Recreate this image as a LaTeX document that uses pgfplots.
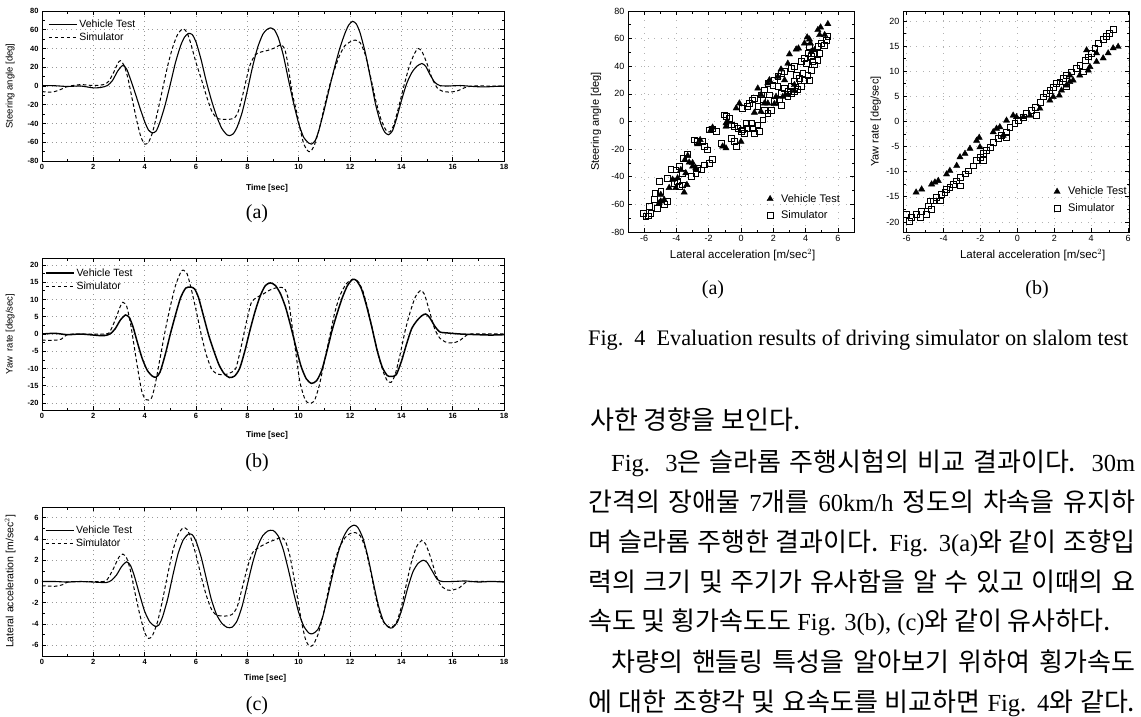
\documentclass[border=0pt]{standalone}
\usepackage{fontspec}
\setmainfont{Liberation Serif}
\setsansfont{Liberation Sans}
\newfontfamily\kr{Noto Sans CJK KR}
\usepackage{pgfplots}
\pgfplotsset{compat=1.18}
\newcommand\K[1]{{\kr\fontsize{26}{28}\selectfont #1}}
\pgfplotsset{
  base/.style={scale only axis, tick align=inside, axis line style={line width=0.9pt},
    tick style={line width=0.7pt, black}, major tick length=4pt, minor tick length=2.5pt,
    /pgf/number format/assume math mode=true, clip=true},
  ts/.style={base, width=462pt, xmin=0, xmax=18, xtick={0,2,...,18}, minor x tick num=1, minor y tick num=1,
    grid=major, major grid style={dash pattern=on 0.8pt off 4pt, gray!80, line width=0.6pt},
    tick label style={font=\sffamily\bfseries\fontsize{7.5}{8}\selectfont},
    xlabel={Time [sec]}, xlabel style={font=\sffamily\bfseries\fontsize{8.5}{9}\selectfont, anchor=center},
    ylabel style={font=\sffamily\fontsize{9.5}{10}\selectfont, anchor=center},
    legend cell align=left,
    legend image code/.code={\draw[##1] (0pt,0pt) -- (28pt,0pt);},
    legend style={draw=none, fill=none, font=\sffamily\fontsize{10.5}{11}\selectfont, anchor=north west,
      row sep=0pt, inner sep=1pt}},
  sc/.style={base, width=226pt, height=221pt, xtick={-6,-4,...,6}, minor x tick num=1, minor y tick num=1,
    grid=major, major grid style={dash pattern=on 0.6pt off 6pt, gray!60, line width=0.5pt},
    tick label style={font=\sffamily\fontsize{9}{10}\selectfont},
    xlabel={Lateral acceleration [m/sec$^2$]}, xlabel style={font=\sffamily\fontsize{11.5}{12}\selectfont, anchor=center},
    ylabel style={font=\sffamily\fontsize{11}{12}\selectfont, anchor=center},
    legend cell align=left,
    legend image code/.code={\path[draw=none] (0pt,0pt) (13pt,0pt); \draw[##1, only marks] plot coordinates {(4pt,0pt)};},
    legend style={draw=none, fill=none, font=\sffamily\fontsize{11}{12}\selectfont, anchor=north west, row sep=3pt}},
  vt/.style={black, line width=1.1pt},
  sm/.style={black, line width=1.0pt, dash pattern=on 3.5pt off 2.5pt},
  tri/.style={only marks, mark=triangle*, mark size=3.6pt, mark options={fill=black, draw=black, line width=0.4pt}},
  sq/.style={only marks, mark=square, mark size=2.9pt, mark options={draw=black, line width=0.6pt, fill=white}},
}
\begin{document}
\begin{tikzpicture}
\path[use as bounding box] (0pt,0pt) rectangle (1141pt,-716pt);

% ---------- (a) steering angle vs time
\begin{axis}[ts, at={(42pt,-11pt)}, anchor=north west, height=150pt,
  ymin=-80, ymax=80, ytick={-80,-60,...,80},
  ylabel={Steering angle [deg]}, ylabel style={at={(axis description cs:-0.069,0.5)}},
  xlabel style={at={(axis description cs:0.487,-0.18)}},
  legend style={at={(rel axis cs:0.011,0.96)}}]
\addplot[vt, smooth, tension=0.4] coordinates {(0,0.5) (0.5,0.3) (1,-0.5) (1.5,0) (2,-2) (2.3,-1.5) (2.55,0.5) (2.75,6) (2.95,16) (3.15,22) (3.3,18) (3.45,7) (3.6,-5) (3.8,-22) (4.0,-38) (4.15,-47) (4.3,-50) (4.45,-48) (4.6,-38) (4.8,-20) (5.0,2) (5.2,25) (5.4,43) (5.55,52) (5.7,56) (5.85,55) (6.0,47) (6.2,28) (6.4,5) (6.6,-15) (6.8,-32) (7.0,-45) (7.2,-52) (7.3,-53) (7.45,-51) (7.6,-44) (7.8,-28) (8.0,-5) (8.2,20) (8.4,41) (8.6,55) (8.75,60) (8.9,62) (9.05,60) (9.2,52) (9.4,33) (9.6,7) (9.8,-18) (10.0,-40) (10.2,-55) (10.4,-61) (10.5,-62) (10.65,-58) (10.8,-46) (11.0,-25) (11.2,-2) (11.4,20) (11.6,40) (11.8,56) (11.95,65) (12.1,69) (12.25,66) (12.4,56) (12.6,35) (12.8,8) (13.0,-20) (13.2,-40) (13.35,-49) (13.5,-52) (13.65,-48) (13.8,-36) (14.0,-16) (14.2,2) (14.4,14) (14.6,21) (14.8,24) (14.95,21) (15.1,13) (15.3,4) (15.5,0.5) (15.8,0) (16.3,0.5) (16.8,-0.5) (17.2,-1) (17.6,-0.5) (18,0)};
\addlegendentry{Vehicle Test}
\addplot[sm, smooth, tension=0.4] coordinates {(0,-6) (0.4,-6.5) (0.7,-4) (1.0,-0.5) (1.5,1.5) (2.0,0.5) (2.4,1.5) (2.6,5) (2.8,15) (2.95,24) (3.05,27) (3.2,22) (3.35,8) (3.5,-12) (3.7,-38) (3.85,-54) (4.0,-62) (4.15,-60) (4.3,-50) (4.5,-28) (4.7,-3) (4.9,22) (5.1,42) (5.3,56) (5.5,61) (5.65,57) (5.8,45) (6.0,25) (6.2,8) (6.4,-10) (6.6,-26) (6.8,-34) (7.0,-35.5) (7.3,-35.5) (7.5,-34) (7.65,-27) (7.8,-12) (7.95,6) (8.1,22) (8.3,33) (8.5,36) (8.8,38) (9.1,41) (9.3,44) (9.45,40) (9.55,28) (9.65,10) (9.75,-8) (9.9,-25) (10.05,-45) (10.2,-62) (10.35,-69) (10.45,-70) (10.6,-64) (10.8,-46) (11.0,-22) (11.2,0) (11.4,18) (11.6,33) (11.8,43) (12.0,47) (12.2,49) (12.4,46) (12.6,33) (12.8,10) (13.0,-15) (13.2,-35) (13.4,-47) (13.55,-49) (13.7,-42) (13.9,-22) (14.1,0) (14.3,20) (14.5,34) (14.65,40) (14.8,37) (15.0,24) (15.2,8) (15.4,-2) (15.6,-5.5) (15.9,-6.5) (16.2,-5) (16.5,-1.5) (16.8,0) (17.3,0) (18,0)};
\addlegendentry{Simulator}
\end{axis}

% ---------- (b) yaw rate vs time
\begin{axis}[ts, at={(42pt,-258pt)}, anchor=north west, height=152pt,
  ymin=-22, ymax=22, ytick={-20,-15,...,20},
  ylabel={Yaw\ \ rate [deg/sec]}, ylabel style={at={(axis description cs:-0.069,0.5)}},
  xlabel style={at={(axis description cs:0.487,-0.164)}},
  legend style={at={(rel axis cs:0.004,0.952)}}]
\addplot[vt, line width=1.5pt, smooth, tension=0.4] coordinates {(0,0) (0.5,0.2) (1,-0.2) (1.5,0) (2,-0.3) (2.4,-0.5) (2.65,0) (2.85,1.5) (3.05,4) (3.25,5.5) (3.4,4.8) (3.55,2) (3.7,-2) (3.9,-7) (4.1,-10.5) (4.3,-12.2) (4.45,-12.5) (4.6,-11) (4.8,-6) (5.0,0) (5.2,5.5) (5.4,10.5) (5.6,13.3) (5.8,13.6) (5.95,13) (6.1,10.5) (6.3,5) (6.5,-0.5) (6.7,-5) (6.9,-9) (7.1,-11.5) (7.3,-12.6) (7.5,-12.2) (7.7,-10) (7.9,-5) (8.1,1) (8.3,6.5) (8.5,11) (8.7,14) (8.9,14.8) (9.1,14) (9.3,11.5) (9.5,7.5) (9.7,2) (9.9,-4) (10.1,-9.5) (10.3,-13) (10.5,-14.3) (10.7,-13.5) (10.9,-10.5) (11.1,-5) (11.3,1) (11.5,6) (11.7,10.5) (11.9,14) (12.1,15.8) (12.25,15.5) (12.45,13) (12.65,8) (12.85,2) (13.05,-4.5) (13.25,-9.5) (13.45,-12) (13.6,-12.3) (13.8,-11.8) (14.0,-8) (14.2,-3) (14.4,1.5) (14.6,3.8) (14.8,5.3) (14.95,5.8) (15.1,4.8) (15.3,2.3) (15.5,0.6) (15.8,0.3) (16.3,0) (17,-0.2) (17.5,-0.3) (18,-0.2)};
\addlegendentry{Vehicle Test}
\addplot[sm, smooth, tension=0.4] coordinates {(0,-1.8) (0.5,-1.8) (0.75,-1.5) (0.95,-0.3) (1.2,0) (2.5,0) (2.7,1.5) (2.9,5) (3.05,8) (3.15,9.2) (3.3,8) (3.45,3) (3.6,-4) (3.75,-11) (3.9,-17) (4.05,-19) (4.25,-18.8) (4.4,-15) (4.6,-7) (4.8,1) (5.0,8) (5.2,14) (5.4,17.8) (5.5,18.5) (5.65,17.5) (5.8,13.5) (6.0,7) (6.2,0) (6.4,-6) (6.6,-10) (6.8,-11.5) (7.1,-11.8) (7.35,-11.2) (7.55,-10) (7.75,-4) (7.95,3) (8.15,9) (8.35,10.5) (8.6,11.5) (8.9,12.8) (9.2,13.5) (9.45,13.2) (9.6,10) (9.75,2) (9.9,-6) (10.05,-14) (10.25,-19) (10.4,-20) (10.6,-19.5) (10.8,-15) (11.0,-8) (11.2,-1) (11.4,6) (11.6,11) (11.85,14.5) (12.1,15.8) (12.3,15.3) (12.5,12.5) (12.7,7) (12.9,0.5) (13.1,-6) (13.3,-11) (13.45,-13.5) (13.6,-14) (13.75,-12) (13.95,-6) (14.15,1) (14.35,6.5) (14.55,10.8) (14.75,12.6) (14.9,11.5) (15.1,6.5) (15.3,1.5) (15.5,-1.2) (15.75,-2.4) (16.0,-2.6) (16.25,-2) (16.5,-0.6) (16.7,0) (18,0)};
\addlegendentry{Simulator}
\end{axis}

% ---------- (c) lateral acceleration vs time
\begin{axis}[ts, at={(42pt,-507pt)}, anchor=north west, height=149pt,
  ymin=-7, ymax=7, ytick={-6,-4,...,6},
  ylabel={Lateral acceleration [m/sec$^2$]}, ylabel style={at={(axis description cs:-0.069,0.5)}, font=\sffamily\fontsize{10.5}{11}\selectfont},
  xlabel style={at={(axis description cs:0.483,-0.148)}},
  legend style={at={(rel axis cs:0.004,0.895)}}]
\addplot[vt, smooth, tension=0.4] coordinates {(0,0) (0.5,0) (1,-0.05) (1.5,0) (2,-0.05) (2.5,-0.1) (2.7,0.1) (2.9,0.6) (3.1,1.4) (3.3,1.85) (3.45,1.5) (3.6,0.5) (3.8,-1.2) (4.0,-2.8) (4.2,-3.8) (4.4,-4.2) (4.55,-4.1) (4.7,-3.3) (4.9,-1.6) (5.1,0.6) (5.3,2.6) (5.5,3.9) (5.7,4.45) (5.85,4.4) (6.0,3.8) (6.2,2.3) (6.4,0.3) (6.6,-1.7) (6.8,-3.1) (7.0,-3.9) (7.2,-4.3) (7.4,-4.3) (7.6,-3.7) (7.8,-2.3) (8.0,-0.3) (8.2,1.7) (8.4,3.3) (8.6,4.3) (8.8,4.75) (9.0,4.8) (9.2,4.3) (9.4,3) (9.6,1.1) (9.8,-1) (10.0,-2.9) (10.2,-4.2) (10.4,-4.85) (10.55,-4.9) (10.75,-4.5) (10.95,-3.2) (11.15,-1.2) (11.35,0.9) (11.55,2.8) (11.75,4.2) (11.95,5) (12.15,5.3) (12.3,5.1) (12.5,4.1) (12.7,2.3) (12.9,0) (13.1,-2.2) (13.3,-3.7) (13.5,-4.3) (13.65,-4.35) (13.85,-3.8) (14.05,-2.4) (14.25,-0.6) (14.45,0.9) (14.65,1.7) (14.85,2.0) (15.0,1.8) (15.2,1.0) (15.4,0.2) (15.6,0) (16,0) (16.5,0.05) (17,-0.05) (17.5,0) (18,-0.05)};
\addlegendentry{Vehicle Test}
\addplot[sm, smooth, tension=0.4] coordinates {(0,-0.4) (0.5,-0.45) (0.8,-0.3) (1.0,-0.05) (1.3,0) (2.4,0) (2.6,0.4) (2.8,1.3) (3.0,2.3) (3.15,2.58) (3.3,2.2) (3.45,1) (3.6,-0.8) (3.8,-3) (4.0,-4.8) (4.15,-5.35) (4.3,-5.1) (4.5,-3.8) (4.7,-1.7) (4.9,0.7) (5.1,2.9) (5.3,4.4) (5.5,5.05) (5.65,4.9) (5.8,4.1) (6.0,2.5) (6.2,0.5) (6.4,-1.3) (6.6,-2.6) (6.8,-3.15) (7.1,-3.25) (7.4,-3.1) (7.6,-2.4) (7.8,-0.6) (8.0,1.3) (8.2,2.7) (8.45,3.2) (8.75,3.6) (9.05,3.9) (9.35,4.15) (9.5,3.7) (9.65,2.5) (9.8,0.6) (9.95,-1.5) (10.1,-3.6) (10.25,-5.3) (10.4,-6.05) (10.55,-6) (10.75,-5) (10.95,-3.2) (11.15,-0.9) (11.35,1.3) (11.55,3) (11.8,4.1) (12.0,4.5) (12.2,4.6) (12.4,4.3) (12.6,3.1) (12.8,1) (13.0,-1.4) (13.2,-3.3) (13.4,-4.1) (13.6,-4.3) (13.8,-3.9) (14.0,-2.4) (14.2,-0.2) (14.4,1.9) (14.6,3.3) (14.8,3.85) (14.95,3.5) (15.15,2.2) (15.35,0.6) (15.55,-0.4) (15.8,-0.8) (16.0,-0.8) (16.25,-0.6) (16.5,-0.1) (16.7,0) (18,0)};
\addlegendentry{Simulator}
\end{axis}

% ---------- scatter (a)
\begin{axis}[sc, at={(628pt,-11pt)}, anchor=north west,
  xmin=-7, xmax=7, ymin=-80, ymax=80, ytick={-80,-60,...,80},
  ylabel={Steering angle [deg]}, ylabel style={at={(axis description cs:-0.142,0.5)}},
  xlabel style={at={(axis description cs:0.507,-0.104)}},
  legend style={at={(rel axis cs:0.597,0.19)}}]
\addplot[tri] coordinates {(5.38,70.6) (4.93,68.2) (4.1,61) (4.24,59.5) (4.87,62.7) (5.18,62.7) (4.3,56.6) (4.55,51.8) (3.56,53) (3.42,52.3) (3.0,48.7) (2.9,42) (2.48,37.8) (2.28,32.5) (1.76,30) (1.66,27.7) (1.04,24) (1.24,19.3) (1.45,13.2) (1.66,13.2) (0.83,6.5) (1.24,7.2) (2.07,12.8) (2.17,18) (2.59,18) (2.9,19.3) (3.31,22.4) (3.31,26.5) (-0.1,13.2) (-0.3,9.6) (-0.83,0) (-0.93,-3.6) (0,-14.5) (-0.93,-19.3) (-1.14,-18) (-1.76,-4.3) (-1.86,-6) (-2.69,-16.4) (-2.53,-13.3) (-3.3,-24.8) (-3.48,-27.7) (-3.21,-29.6) (-3.0,-30) (-3.73,-35) (-3.93,-41) (-4.24,-42) (-4.45,-48) (-4.97,-53) (-4.97,-57.8) (-4.04,-48) (-3.52,-51.3) (-3.35,-45.8) (-5.07,-59) (-4.76,-56.6) (-3.42,-37.3) (-3.0,-32.5) (-2.8,-33.7) (2.7,30) (4.35,50.6) (3.93,56.6) (-0.93,-1.2) (4.76,66.3)};
\addlegendentry{Vehicle Test}
\addplot[sq] coordinates {(-6.05,-66.3) (-5.9,-68.7) (-5.76,-68.2) (-5.59,-66.3) (-5.69,-61.4) (-5.38,-56.6) (-5.34,-51.8) (-4.97,-50.6) (-5.07,-43.4) (-4.76,-60.2) (-4.55,-57.8) (-5.18,-62.7) (-4.55,-41) (-4.35,-34.5) (-3.83,-32.5) (-3.56,-26.5) (-3.31,-23.4) (-3.62,-37.3) (-4.04,-35) (-4.14,-44.6) (-3.93,-43.4) (-3.83,-47) (-3.62,-45.8) (-3.1,-39.8) (-2.8,-37.3) (-2.69,-33.7) (-2.48,-35) (-2.28,-31.3) (-1.97,-30) (-1.76,-27.2) (-2.9,-13.3) (-2.69,-14.5) (-2.28,-18) (-2.07,-20.5) (-2.38,-14.5) (-1.97,-6) (-1.76,-5.3) (-1.55,-7.2) (-1.04,4.8) (-0.93,3.6) (-0.72,2.4) (-0.62,-2.4) (-0.41,-3.6) (-0.2,-4.8) (0,-7.2) (0.2,-8.4) (-0.62,-12) (-0.41,-14.5) (-0.3,-18) (-1.24,-15.7) (0.1,-6) (0.31,-1.2) (0.41,-4.8) (0.62,-1.2) (0.72,-4.8) (1.04,-2.4) (1.14,-7.2) (0.83,-8.4) (1.35,1.2) (1.45,8.4) (1.66,6) (1.86,8.4) (2.07,14.5) (2.38,15.7) (2.48,12) (2.9,18) (3.1,20) (3.31,21.7) (3.52,23.4) (3.73,25.3) (3.93,30) (4.14,33.7) (4.24,30) (4.35,37.3) (4.45,43.4) (4.55,41) (4.76,44.6) (4.86,49.4) (5.18,55.4) (5.28,59) (5.38,61.4) (4.24,54.2) (4.14,49.4) (3.93,45.8) (3.73,43.4) (3.31,39.8) (3.1,38.6) (2.69,36.1) (2.48,34.9) (2.28,32.5) (2.07,30) (1.97,26.5) (1.66,27.7) (1.45,22.9) (1.24,19.3) (0.83,16.9) (0.72,15.7) (0.52,13.3) (0.41,10.8) (0.1,9.6) (1.04,10.8) (1.35,15.7) (1.76,19.3) (2.28,25.3) (2.69,24.1) (2.9,21.7) (3.31,28.9) (3.62,31.3) (3.83,34.9) (4.04,42.2) (4.35,47) (4.55,49.4) (4.76,54.2) (4.97,56.6) (2.48,20.5) (3.1,25.3) (3.42,33.7)};
\addlegendentry{Simulator}
\end{axis}

% ---------- scatter (b)
\begin{axis}[sc, at={(903pt,-11pt)}, anchor=north west,
  xmin=-6.2, xmax=6.05, ymin=-22, ymax=22, ytick={-20,-15,...,20},
  ylabel={Yaw rate [deg/sec]}, ylabel style={at={(axis description cs:-0.12,0.5)}},
  xlabel style={at={(axis description cs:0.574,-0.104)}},
  legend style={at={(rel axis cs:0.65,0.223)}}]
\addplot[tri] coordinates {(-5.49,-14.1) (-5.19,-13.5) (-4.65,-12.5) (-4.47,-12.1) (-4.29,-11.8) (-3.84,-10.5) (-3.66,-9.8) (-3.29,-8.8) (-3.11,-7.1) (-2.84,-6.4) (-2.57,-5.4) (-2.21,-3.8) (-2.07,-3.2) (-1.31,-2.1) (-1.13,-1.4) (-0.95,-1.1) (-0.59,0.2) (-0.23,1.2) (-0.05,0.9) (0.32,0.9) (0.68,1.2) (1.22,2.6) (1.76,4.2) (1.94,4.9) (2.39,6.2) (2.66,7.2) (2.84,7.9) (3.02,8.2) (3.38,9.2) (3.84,10.2) (3.93,10.9) (4.29,11.9) (4.65,12.6) (4.92,13.6) (5.19,14.6) (5.46,14.9) (2.84,9.2) (3.75,14.2) (4.29,13.6) (2.27,5.2) (-2.03,-5.1) (-0.77,-2.8)};
\addlegendentry{Vehicle Test}
\addplot[sq] coordinates {(-6.0,-18.5) (-5.86,-19.8) (-5.73,-19.1) (-5.46,-18.5) (-5.28,-19.1) (-5.19,-17.8) (-4.92,-18.5) (-4.83,-16.8) (-4.65,-17.5) (-4.74,-15.8) (-4.38,-15.1) (-4.2,-15.8) (-4.11,-14.5) (-3.93,-14.1) (-3.84,-13.5) (-3.66,-13.1) (-3.47,-12.5) (-3.29,-11.8) (-3.11,-11.1) (-2.84,-10.4) (-2.66,-9.8) (-2.39,-8.8) (-2.21,-7.8) (-2.03,-7.1) (-1.85,-6.4) (-1.67,-5.8) (-1.49,-5.1) (-1.31,-4.1) (-1.04,-3.4) (-0.86,-2.8) (-0.59,-2.1) (-0.41,-1.1) (-0.14,-0.4) (0.05,0.2) (0.32,0.9) (0.5,1.6) (0.77,2.2) (0.95,2.9) (1.22,3.9) (1.4,4.9) (1.58,5.6) (1.76,6.2) (1.94,6.8) (2.12,7.6) (2.3,7.9) (2.48,8.6) (2.66,9.2) (2.93,9.9) (3.2,10.6) (3.38,11.2) (3.66,12.2) (3.84,12.9) (4.02,13.6) (4.2,14.6) (4.38,15.6) (4.65,16.3) (4.83,16.9) (5.0,17.6) (5.19,18.3) (2.66,6.9) (3.57,9.9) (1.04,1.2) (-0.59,-3.1) (-1.85,-7.8) (-3.11,-12.8) (-4.56,-15.8)};
\addlegendentry{Simulator}
\end{axis}

% ---------- sub-figure labels and caption
\node[font=\fontsize{20}{22}\selectfont] at (257pt,-214pt) {(a)};
\node[font=\fontsize{20}{22}\selectfont] at (257pt,-463pt) {(b)};
\node[font=\fontsize{20}{22}\selectfont] at (257pt,-706pt) {(c)};
\node[font=\fontsize{20}{22}\selectfont] at (713pt,-290pt) {(a)};
\node[font=\fontsize{20}{22}\selectfont] at (1037pt,-290pt) {(b)};
\node[anchor=base west, inner sep=0pt, font=\fontsize{22.2}{24}\selectfont] at (588pt,-345pt) {Fig.\ \ 4\ \ Evaluation results of driving simulator on slalom test};

% ---------- Korean text
\begin{scope}[every node/.style={anchor=base west, inner sep=0pt, font=\fontsize{24.5}{26}\selectfont}]
\node at (590pt,-429pt) {\K{사한 경향을 보인다.}};
\node at (611pt,-471pt) {\makebox[524pt][s]{Fig. 3\K{은 슬라롬 주행시험의 비교 결과이다.} 30m}};
\node at (588pt,-511pt) {\makebox[547pt][s]{\K{간격의 장애물} 7\K{개를} 60km/h \K{정도의 차속을 유지하}}};
\node at (588pt,-551pt) {\makebox[547pt][s]{\K{며 슬라롬 주행한 결과이다.} Fig. 3(a)\K{와 같이 조향입}}};
\node at (588pt,-591pt) {\makebox[547pt][s]{\K{력의 크기 및 주기가 유사함을 알 수 있고 이때의 요}}};
\node at (588pt,-630pt) {\K{속도 및 횡가속도도} Fig. 3(b), (c)\K{와 같이 유사하다.}};
\node at (611pt,-671pt) {\makebox[524pt][s]{\K{차량의 핸들링 특성을 알아보기 위하여 횡가속도}}};
\node at (588pt,-711pt) {\makebox[547pt][s]{\K{에 대한 조향각 및 요속도를 비교하면} Fig. 4\K{와 같다.}}};
\end{scope}
\end{tikzpicture}
\end{document}
